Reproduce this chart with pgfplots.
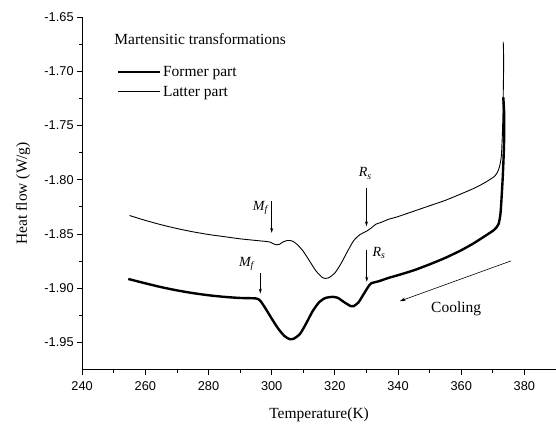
\documentclass[border=0pt]{standalone}
\usepackage{fontspec}
\setmainfont{Liberation Serif}
\newfontfamily\arial{Liberation Sans}
\usepackage{pgfplots}
\pgfplotsset{compat=1.18}
\usetikzlibrary{arrows.meta,calc}
\begin{document}
\begin{tikzpicture}
\begin{axis}[scale only axis, width=474.4pt, height=353pt,
 xmin=240, xmax=390, ymin=-1.975, ymax=-1.65,
 axis x line*=bottom, axis y line*=left,
 xtick={240,260,280,300,320,340,360,380}, minor x tick num=1,
 ytick={-1.95,-1.90,-1.85,-1.80,-1.75,-1.70,-1.65}, minor y tick num=1,
 tick align=outside, major tick length=5pt, minor tick length=3pt,
 tick style={black, line width=0.8pt},
 axis line style={line width=0.8pt},
 ticklabel style={font=\arial\fontsize{12.8}{15}\selectfont},
 xticklabel style={yshift=-3pt},
 /pgf/number format/assume math mode=true,
 yticklabel style={/pgf/number format/.cd, fixed, fixed zerofill, precision=2},
 xlabel={Temperature(K)}, ylabel={Heat flow (W/g)},
 label style={font=\fontsize{15.5}{18}\selectfont},
 xlabel style={at={(axis description cs:0.5,-0.1275)}, anchor=center},
 ylabel style={at={(axis description cs:-0.1244,0.5)}, anchor=center},
 clip=false,
 legend style={draw=none, fill=none, at={(axis description cs:0.0726,0.866)}, anchor=north west, font=\fontsize{15.5}{18}\selectfont, inner sep=0pt, row sep=4pt},
 legend cell align=left,
 legend image code/.code={\draw[#1] (0pt,0pt) -- (42pt,0pt);},
]
\addplot[black, line width=2.4pt, smooth, tension=0.4] coordinates {
(254.6,-1.8915) (260,-1.8955) (265,-1.899) (270,-1.902) (275,-1.9045) (280,-1.9065) (285,-1.908) (290,-1.909) (295.2,-1.9095)
(296.5,-1.912) (298,-1.9185) (300,-1.928) (302,-1.937) (304,-1.944) (305.7,-1.947) (307,-1.9465) (309,-1.942) (311,-1.932)
(313,-1.921) (315,-1.913) (317,-1.909) (319.4,-1.908) (321,-1.909) (323,-1.913) (325,-1.9165) (326,-1.9165) (327.5,-1.913)
(329,-1.906) (330.5,-1.899) (331.5,-1.8955) (334,-1.8935) (337,-1.8905) (340,-1.888) (345,-1.8835) (350,-1.878) (355,-1.872)
(360,-1.865) (364,-1.8585) (368,-1.851) (370.5,-1.846) (371.8,-1.841) (372.4,-1.832) (372.7,-1.82) (373.1,-1.80) (373.4,-1.78)
(373.6,-1.76) (373.6,-1.74) (373.4,-1.728) (373.3,-1.724)};
\addlegendentry{Former part}
\addplot[black, line width=0.9pt, smooth, tension=0.4] coordinates {
(255,-1.833) (260,-1.8375) (265,-1.8415) (270,-1.845) (275,-1.848) (280,-1.8505) (285,-1.8525) (290,-1.8545) (295,-1.856)
(298.5,-1.857) (299.5,-1.8575) (300.5,-1.859) (301.5,-1.860) (302.5,-1.8595) (303.5,-1.8575) (305,-1.856) (306.5,-1.8565)
(308,-1.8595) (310,-1.866) (312,-1.875) (314,-1.884) (316,-1.890) (317,-1.891) (318,-1.8905) (320,-1.886) (322,-1.877)
(324,-1.866) (326,-1.856) (328,-1.8505) (330,-1.8475) (331.5,-1.8445) (333,-1.841) (334.5,-1.8395) (337,-1.8365) (340,-1.834)
(345,-1.829) (350,-1.824) (355,-1.819) (360,-1.813) (364,-1.808) (367,-1.8035) (369,-1.800) (370.5,-1.797) (371.5,-1.793)
(372.2,-1.787) (372.7,-1.778) (373.0,-1.76) (373.2,-1.74) (373.3,-1.72) (373.4,-1.70) (373.4,-1.685) (373.3,-1.673)};
\addlegendentry{Latter part}
\node[anchor=base west, font=\fontsize{15.5}{18}\selectfont] at (axis cs:249.1,-1.6753) {Martensitic transformations};
\node[anchor=base, font=\fontsize{15.5}{18}\selectfont] at (axis cs:358.4,-1.9227) {Cooling};
\draw[line width=0.6pt, -{Stealth[length=6pt,width=3.5pt]}] (axis cs:375.8,-1.8748) -- (axis cs:340.5,-1.912);
% annotations
\draw[line width=0.6pt, -{Stealth[length=5pt,width=3pt]}] (axis cs:300,-1.820) -- (axis cs:300,-1.849);
\draw[line width=0.6pt, -{Stealth[length=5pt,width=3pt]}] (axis cs:330,-1.8075) -- (axis cs:330,-1.843);
\draw[line width=0.6pt, -{Stealth[length=5pt,width=3pt]}] (axis cs:296.4,-1.886) -- (axis cs:296.4,-1.905);
\draw[line width=0.6pt, -{Stealth[length=5pt,width=3pt]}] (axis cs:330.1,-1.8646) -- (axis cs:330.1,-1.894);
\node[anchor=base west, font=\fontsize{14}{16}\selectfont\itshape, inner sep=0pt] at (axis cs:294.0,-1.828) {M\textsubscript{f}};
\node[anchor=base west, font=\fontsize{14}{16}\selectfont\itshape, inner sep=0pt] at (axis cs:327.5,-1.7974) {R\textsubscript{s}};
\node[anchor=base west, font=\fontsize{14}{16}\selectfont\itshape, inner sep=0pt] at (axis cs:289.6,-1.880) {M\textsubscript{f}};
\node[anchor=base west, font=\fontsize{14}{16}\selectfont\itshape, inner sep=0pt] at (axis cs:331.9,-1.8708) {R\textsubscript{s}};
\coordinate (sw) at (rel axis cs:0,0);
\coordinate (ne) at (rel axis cs:1,1);
\end{axis}
\pgfresetboundingbox
\path[use as bounding box] ($(sw)+(-82.25pt,-57pt)$) rectangle ($(ne)+(0pt,17pt)$);
\end{tikzpicture}
\end{document}
